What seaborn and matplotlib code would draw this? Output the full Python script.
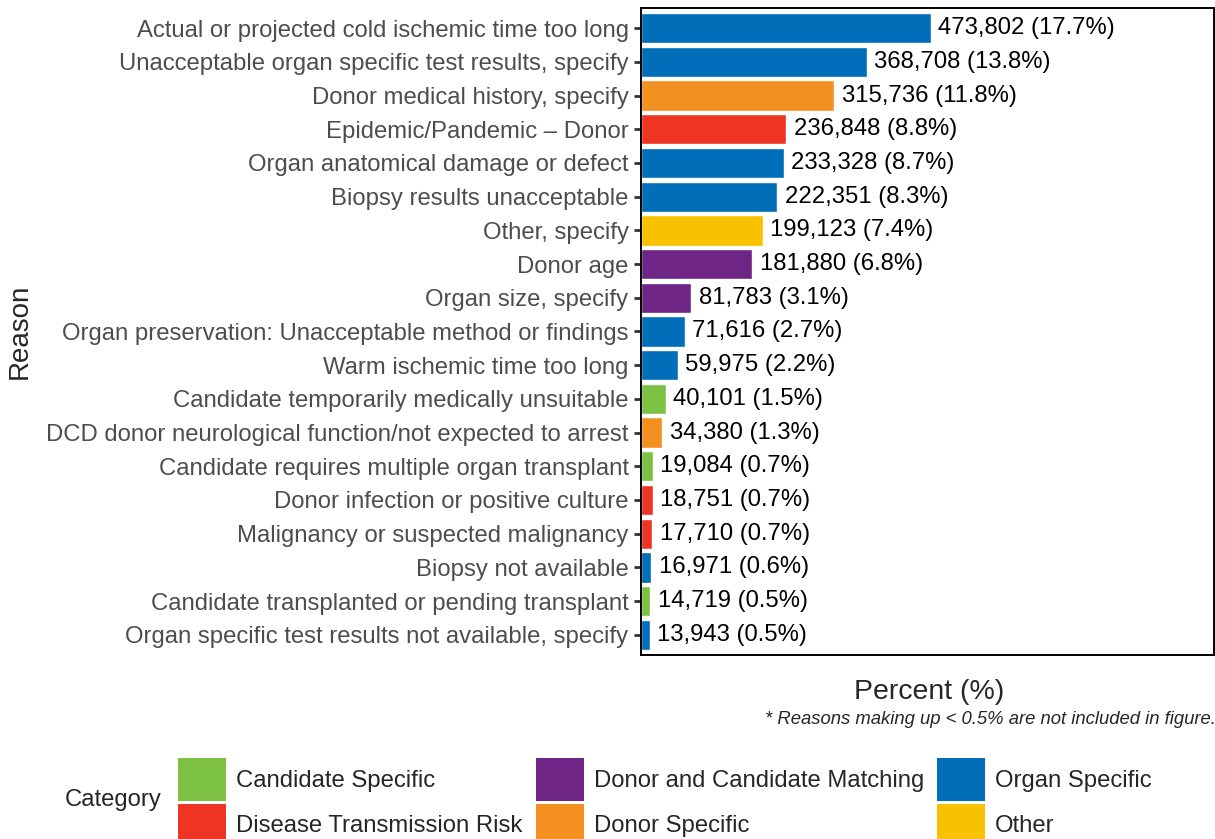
import pandas as pd
import seaborn as sns
import matplotlib.pyplot as plt
from matplotlib.patches import Patch

reasons = [
    'Actual or projected cold ischemic time too long',
    'Unacceptable organ specific test results, specify',
    'Donor medical history, specify',
    'Epidemic/Pandemic \u2013 Donor',
    'Organ anatomical damage or defect',
    'Biopsy results unacceptable',
    'Other, specify',
    'Donor age',
    'Organ size, specify',
    'Organ preservation: Unacceptable method or findings',
    'Warm ischemic time too long',
    'Candidate temporarily medically unsuitable',
    'DCD donor neurological function/not expected to arrest',
    'Candidate requires multiple organ transplant',
    'Donor infection or positive culture',
    'Malignancy or suspected malignancy',
    'Biopsy not available',
    'Candidate transplanted or pending transplant',
    'Organ specific test results not available, specify',
]
counts = [473802, 368708, 315736, 236848, 233328, 222351, 199123, 181880, 81783,
          71616, 59975, 40101, 34380, 19084, 18751, 17710, 16971, 14719, 13943]
pct_labels = ['17.7%', '13.8%', '11.8%', '8.8%', '8.7%', '8.3%', '7.4%', '6.8%', '3.1%',
              '2.7%', '2.2%', '1.5%', '1.3%', '0.7%', '0.7%', '0.7%', '0.6%', '0.5%', '0.5%']
categories = [
    'Organ Specific', 'Organ Specific', 'Donor Specific', 'Disease Transmission Risk',
    'Organ Specific', 'Organ Specific', 'Other', 'Donor and Candidate Matching',
    'Donor and Candidate Matching', 'Organ Specific', 'Organ Specific', 'Candidate Specific',
    'Donor Specific', 'Candidate Specific', 'Disease Transmission Risk',
    'Disease Transmission Risk', 'Organ Specific', 'Candidate Specific', 'Organ Specific',
]

palette = {
    'Candidate Specific': '#7DC142',
    'Disease Transmission Risk': '#EE3524',
    'Donor and Candidate Matching': '#6E2585',
    'Donor Specific': '#F39020',
    'Organ Specific': '#006EB8',
    'Other': '#F9C200',
}

df = pd.DataFrame({'reason': reasons, 'count': counts, 'pct': pct_labels, 'category': categories})

sns.set_style('white')
plt.rcParams['font.family'] = ['Liberation Sans', 'DejaVu Sans']
plt.rcParams['ytick.left'] = True
plt.rcParams['ytick.direction'] = 'out'

fig = plt.figure(figsize=(12.15, 8.39), dpi=100)
ax = fig.add_axes([0.5276, 0.2193, 0.4716, 0.7712])

sns.barplot(data=df, x='count', y='reason', hue='category', palette=palette,
            dodge=False, width=0.9, legend=False, orient='h', ax=ax, saturation=1)

# count + percent label next to each bar
for i, row in df.iterrows():
    ax.text(row['count'] + 12500, i, f"{row['count']:,} ({row['pct']})",
            va='center', ha='left', fontsize=17.2, color='black')

ax.set_xlim(0, 937000)
ax.set_ylim(len(df) - 0.4, -0.6)
ax.set_xticks([])
ax.tick_params(axis='y', which='major', left=True, length=5, width=2, color='#333333',
               labelsize=17.2, labelcolor='#4D4D4D', pad=4)
for s in ax.spines.values():
    s.set_visible(True)
    s.set_color('black')
    s.set_linewidth(1.4)

ax.set_ylabel('')
ax.set_xlabel('')
fig.text(0.0165, 0.605, 'Reason', rotation=90, ha='center', va='center', fontsize=20)
fig.text(0.765, 0.175, 'Percent (%)', ha='center', va='center', fontsize=20.5)
fig.text(1.001, 0.142, '* Reasons making up < 0.5% are not included in figure.',
         ha='right', va='center', fontsize=13.3, style='italic')

handles = [Patch(facecolor=palette[k], edgecolor='none') for k in palette]
fig.legend(handles, list(palette.keys()), ncol=3, loc='center left',
           bbox_to_anchor=(0.1465, 0.044), frameon=False, fontsize=17.2,
           handlelength=2.03, handleheight=2.39, labelspacing=0.12,
           handletextpad=0.4, columnspacing=0.55, borderpad=0, borderaxespad=0)
fig.text(0.0535, 0.0465, 'Category', ha='left', va='center', fontsize=17.2)

plt.savefig('out.png', dpi=100)
